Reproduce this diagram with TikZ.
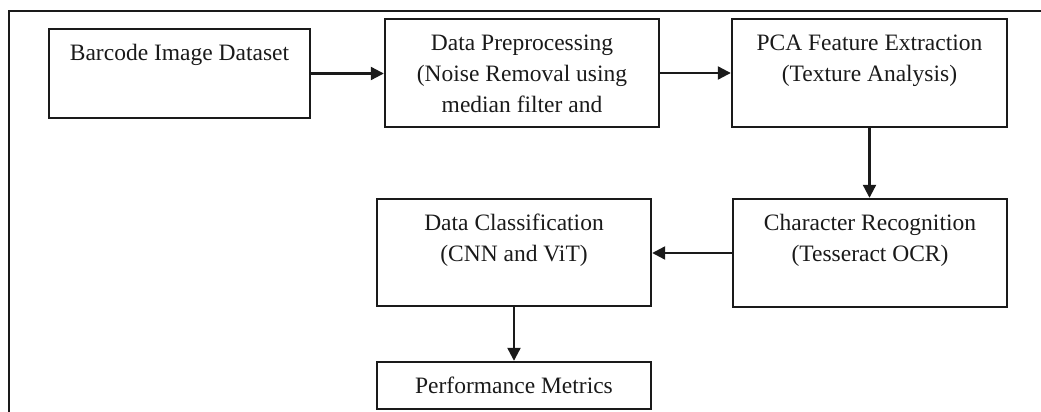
\documentclass[tikz,border=0pt]{standalone}
\usepackage{fontspec}
\setmainfont{Liberation Serif}
\usetikzlibrary{arrows.meta,calc}
\definecolor{ink}{HTML}{1A1A1A}
\tikzset{
  box/.style={draw=ink, line width=1.2pt, rectangle, inner sep=0pt},
  txt/.style={anchor=north, inner sep=0pt, align=center, text=ink,
              font=\fontsize{11.75}{15.5}\selectfont},
  conn/.style={draw=ink, line width=1.1pt, -{Triangle[length=6.5pt,width=6.5pt]}},
  frame/.style={draw=ink, line width=0.8pt}
}
\begin{document}
\begin{tikzpicture}[x=0.5pt,y=-0.5pt]
\useasboundingbox (0,0) rectangle (1041,412);
% outer frame (top and left edges only)
\coordinate (fTR) at (1041,11);
\coordinate (fTL) at (9,11);
\coordinate (fBL) at (9,412);
\draw[frame] (fTR) -- (fTL) -- (fBL);
% boxes
\node[box, minimum width=130.5pt, minimum height=44.5pt] (b1) at (179.5,73.5) {};
\node[box, minimum width=137pt, minimum height=54pt] (b2) at (522,73) {};
\node[box, minimum width=137.5pt, minimum height=54pt] (b3) at (869.5,73) {};
\node[box, minimum width=137pt, minimum height=54pt] (b4) at (870,253) {};
\node[box, minimum width=137pt, minimum height=53.5pt] (b5) at (514,252.5) {};
\node[box, minimum width=137pt, minimum height=23.5pt, txt, anchor=center] (b6) at (514,385.5) {Performance Metrics};
% texts
\node[txt] (t1) at ($(b1.north)+(0,10.3)$) {\strut Barcode Image Dataset};
\node[txt] (t2) at ($(b2.north)+(0,10.3)$) {\strut Data Preprocessing\\\strut(Noise Removal using\\\strut median filter and};
\node[txt] (t3) at ($(b3.north)+(0,10.3)$) {\strut PCA Feature Extraction\\\strut(Texture Analysis)};
\node[txt] (t4) at ($(b4.north)+(0,10.3)$) {\strut Character Recognition\\\strut(Tesseract OCR)};
\node[txt] (t5) at ($(b5.north)+(0,10.3)$) {\strut Data Classification\\\strut(CNN and ViT)};
% connectors
\draw[conn] (b1.east) -- (b1.east -| b2.west);
\draw[conn] (b2.east) -- (b2.east -| b3.west);
\draw[conn] (b3.south) -- (b3.south |- b4.north);
\draw[conn] (b4.west) -- (b4.west -| b5.east);
\draw[conn] (b5.south) -- (b5.south |- b6.north);
\end{tikzpicture}
\end{document}
